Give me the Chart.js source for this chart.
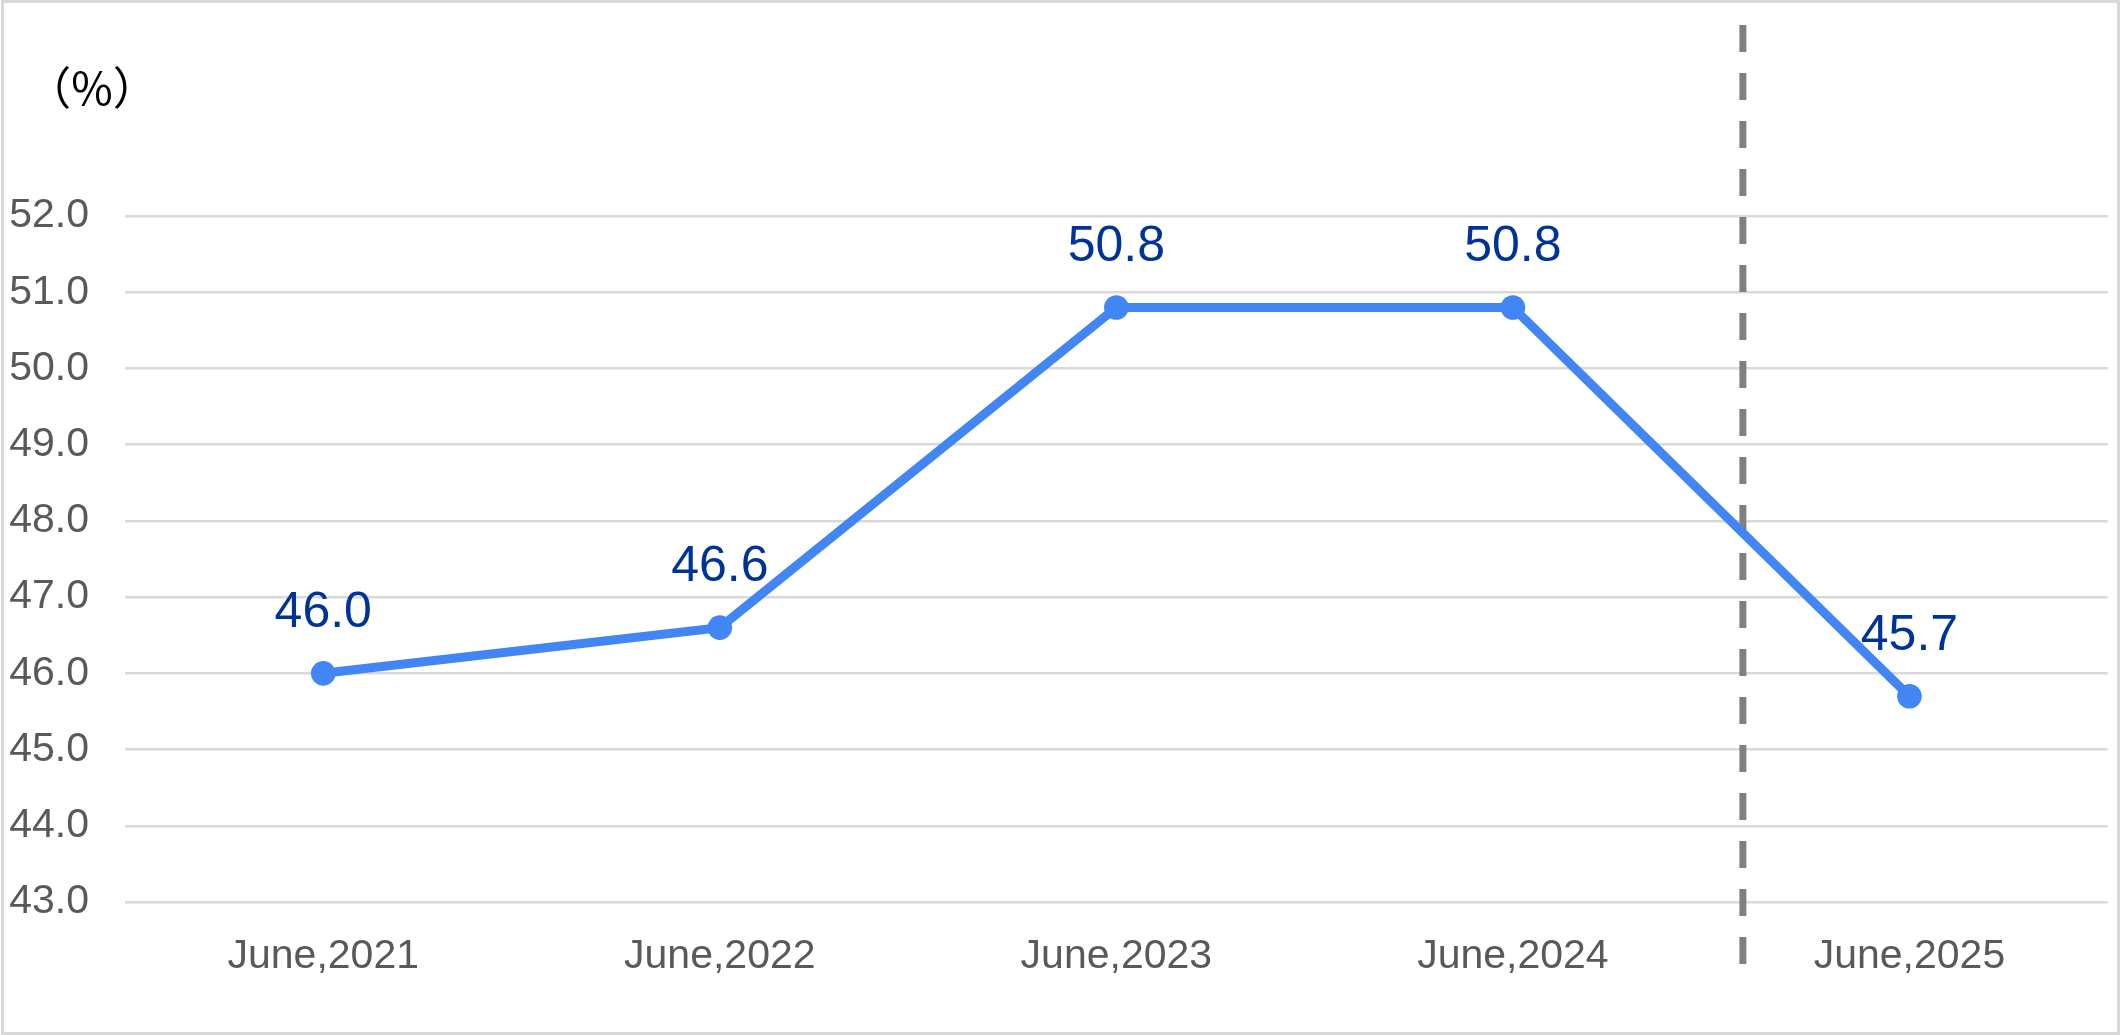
<!DOCTYPE html>
<html>
<head>
<meta charset="utf-8">
<script src="https://cdn.jsdelivr.net/npm/chart.js@4.4.1/dist/chart.umd.min.js"></script>
<style>
  html, body { margin: 0; padding: 0; background: #fff; }
  canvas { display: block; }
</style>
</head>
<body>
<canvas id="myChart" width="2120" height="1035"></canvas>
<script>
// chart data
const categories = ['June,2021', 'June,2022', 'June,2023', 'June,2024', 'June,2025'];
const ratioValues = [46.0, 46.6, 50.8, 50.8, 45.7];
const yMin = 43;
const yMax = 52;
const yStep = 1;
const unitLabel = '（%）';
// dashed divider sits between June,2024 and June,2025 (category index position)
const dividerAt = 3.58;

const fontFamily = '"Liberation Sans", Arial, sans-serif';

const pagePlugin = {
    id: 'pageDeco',
    beforeDraw: (chart) => {
        const ctx = chart.ctx;
        ctx.save();
        ctx.fillStyle = '#ffffff';
        ctx.fillRect(0, 0, chart.width, chart.height);
        ctx.restore();
    },
    beforeDatasetsDraw: (chart) => {
        const ctx = chart.ctx;
        const x = chart.scales.x;
        const i = Math.floor(dividerAt);
        const px = x.getPixelForValue(i) + (x.getPixelForValue(i + 1) - x.getPixelForValue(i)) * (dividerAt - i);
        ctx.save();
        ctx.strokeStyle = '#808080';
        ctx.lineWidth = 7;
        ctx.setLineDash([27, 21]);
        ctx.beginPath();
        ctx.moveTo(px, 25);
        ctx.lineTo(px, 967);
        ctx.stroke();
        ctx.restore();
    },
    afterDatasetsDraw: (chart) => {
        const ctx = chart.ctx;
        const meta = chart.getDatasetMeta(0);
        ctx.save();
        ctx.fillStyle = '#003399';
        ctx.font = '50px ' + fontFamily;
        ctx.textAlign = 'center';
        ctx.textBaseline = 'middle';
        meta.data.forEach((pt, i) => {
            ctx.fillText(ratioValues[i].toFixed(1), pt.x, pt.y - 60);
        });
        ctx.restore();
    },
    afterDraw: (chart) => {
        const ctx = chart.ctx;
        ctx.save();
        // unit label
        ctx.fillStyle = '#000000';
        ctx.font = '45px "Noto Sans CJK JP", sans-serif';
        ctx.textAlign = 'center';
        ctx.textBaseline = 'middle';
        ctx.fillText(unitLabel, 92, 88);
        // outer frame
        ctx.strokeStyle = '#d9d9d9';
        ctx.lineWidth = 3;
        ctx.strokeRect(2.5, 1.5, chart.width - 4, chart.height - 3);
        ctx.restore();
    }
};

const renderChart = () => {
    const el = document.getElementById('myChart');
    new Chart(el, {
        type: 'line',
        data: {
            labels: categories,
            datasets: [
                {
                    data: ratioValues,
                    borderColor: '#4285f4',
                    backgroundColor: '#4285f4',
                    borderWidth: 9,
                    pointRadius: 12.3,
                    pointHoverRadius: 12.3,
                    pointBorderWidth: 0,
                    pointBackgroundColor: '#4285f4',
                    tension: 0,
                    clip: false,
                },
            ],
        },
        options: {
            responsive: false,
            devicePixelRatio: 1,
            animation: false,
            layout: { padding: { top: 216, left: 10, right: 5, bottom: 61 } },
            plugins: {
                legend: { display: false },
                tooltip: { enabled: false },
                title: { display: false },
            },
            scales: {
                x: {
                    offset: true,
                    grid: { display: false, drawTicks: false },
                    border: { display: false },
                    afterFit: (s) => { s.height = 72; },
                    ticks: {
                        color: '#595959',
                        padding: 30,
                        maxRotation: 0,
                        font: { family: fontFamily, size: 41 },
                    },
                },
                y: {
                    min: yMin,
                    max: yMax,
                    grid: { color: '#d9d9d9', lineWidth: 2.5, drawTicks: false },
                    border: { display: false },
                    afterFit: (s) => { s.width = 115; },
                    ticks: {
                        stepSize: yStep,
                        color: '#595959',
                        padding: 36,
                        font: { family: fontFamily, size: 41 },
                        callback: (v) => Number(v).toFixed(1),
                    },
                },
            },
        },
        plugins: [pagePlugin],
    });
};

renderChart();
</script>
</body>
</html>
